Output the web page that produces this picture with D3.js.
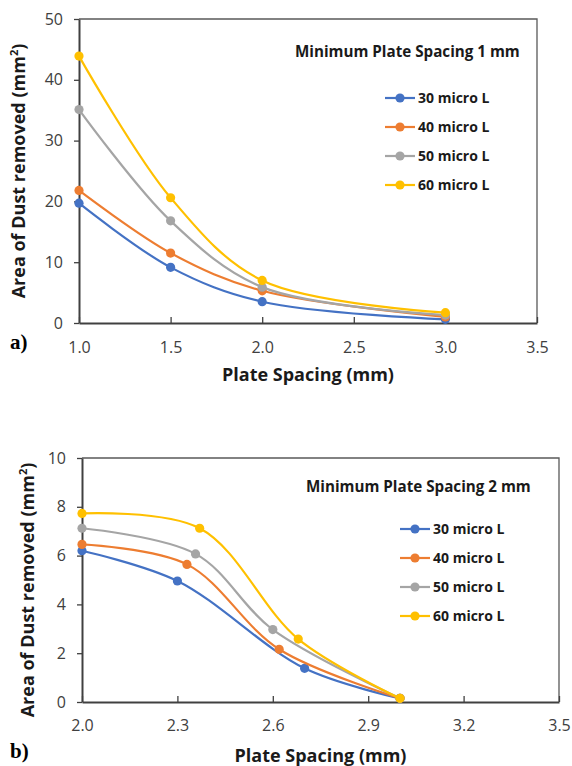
<!DOCTYPE html>
<html><head><meta charset="utf-8">
<script src="https://cdn.jsdelivr.net/npm/d3@7"></script>
<style>
body{margin:0;background:#fff;}
svg{display:block;}
</style></head><body>
<svg id="c" width="572" height="766"></svg>
<script>
// ---- data ----
const seriesNames = ["30 micro L", "40 micro L", "50 micro L", "60 micro L"];
const seriesColors = ["#4472C4", "#ED7D31", "#A5A5A5", "#FFC000"];

// Chart a: Minimum Plate Spacing 1 mm
const aX = [1.0, 1.5, 2.0, 3.0];
const a30 = [19.7, 9.15, 3.5, 0.6];
const a40 = [21.8, 11.5, 5.3, 1.0];
const a50 = [35.1, 16.8, 5.9, 1.3];
const a60 = [43.9, 20.6, 7.0, 1.7];
const aXTicks = [1.0, 1.5, 2.0, 2.5, 3.0, 3.5];
const aYTicks = [0, 10, 20, 30, 40, 50];

// Chart b: Minimum Plate Spacing 2 mm
const b30x = [2.0, 2.30, 2.70, 3.0];
const b30y = [6.2, 4.96, 1.38, 0.15];
const b40x = [2.0, 2.33, 2.62, 3.0];
const b40y = [6.46, 5.64, 2.16, 0.15];
const b50x = [2.0, 2.357, 2.60, 3.0];
const b50y = [7.12, 6.07, 2.97, 0.15];
const b60x = [2.0, 2.37, 2.68, 3.0];
const b60y = [7.73, 7.12, 2.58, 0.15];
const bXTicks = [2.0, 2.3, 2.6, 2.9, 3.2, 3.5];
const bYTicks = [0, 2, 4, 6, 8, 10];

const svg = d3.select("#c");
const FONT = "'Open Sans', 'DejaVu Sans', sans-serif";

function drawChart(cfg) {
  const g = svg.append("g");
  const x = d3.scaleLinear().domain(cfg.xDomain).range([cfg.left, cfg.right]);
  const y = d3.scaleLinear().domain(cfg.yDomain).range([cfg.bottom, cfg.top]);

  // frame (top & right)
  g.append("path")
    .attr("d", `M${cfg.left},${cfg.top}H${cfg.right}V${cfg.bottom}`)
    .attr("fill", "none").attr("stroke", "#595959").attr("stroke-width", 1.3);

  // x axis (ticks inward)
  const xa = g.append("g").attr("transform", `translate(0,${cfg.bottom})`)
    .call(d3.axisTop(x).tickValues(cfg.xTicks).tickSize(6).tickSizeOuter(0).tickFormat(d3.format(".1f")));
  xa.select(".domain").attr("stroke", "#404040").attr("stroke-width", 2);
  xa.selectAll(".tick line").attr("stroke", "#404040").attr("stroke-width", 1.3);
  xa.selectAll(".tick text").attr("y", cfg.xLabelDy).attr("dy", 0)
    .attr("font-family", FONT).attr("font-size", 16).attr("fill", "#404040");

  // y axis (ticks outward)
  const ya = g.append("g").attr("transform", `translate(${cfg.left},0)`)
    .call(d3.axisLeft(y).tickValues(cfg.yTicks).tickSize(5).tickSizeOuter(0).tickPadding(11));
  ya.select(".domain").attr("stroke", "#404040").attr("stroke-width", 2);
  ya.selectAll(".tick line").attr("stroke", "#404040").attr("stroke-width", 1.3);
  ya.selectAll(".tick text").attr("font-family", FONT).attr("font-size", 16).attr("fill", "#404040");

  // lines
  const line = d3.line().x(d => x(d[0])).y(d => y(d[1])).curve(d3.curveCatmullRom.alpha(0.5));
  cfg.series.forEach((s, i) => {
    const pts = s.xs.map((xv, j) => [xv, s.ys[j]]);
    g.append("path").datum(pts).attr("d", line)
      .attr("fill", "none").attr("stroke", seriesColors[i]).attr("stroke-width", 2.2);
    g.selectAll(null).data(pts).enter().append("circle")
      .attr("cx", d => x(d[0])).attr("cy", d => y(d[1])).attr("r", 4.6)
      .attr("fill", seriesColors[i]);
  });

  // legend
  g.append("text").attr("x", cfg.legTitleX).attr("y", cfg.legTitleY)
    .attr("font-family", FONT).attr("font-weight", 700).attr("font-size", 15.2)
    .attr("fill", "#1a1a1a").text(cfg.legTitle);
  seriesNames.forEach((n, i) => {
    const yy = cfg.legY0 + i * 29;
    g.append("line").attr("x1", cfg.legX).attr("x2", cfg.legX + 30)
      .attr("y1", yy).attr("y2", yy).attr("stroke", seriesColors[i]).attr("stroke-width", 2.2);
    g.append("circle").attr("cx", cfg.legX + 15).attr("cy", yy).attr("r", 4.6).attr("fill", seriesColors[i]);
    g.append("text").attr("x", cfg.legX + 33).attr("y", yy + 5)
      .attr("font-family", FONT).attr("font-weight", 700).attr("font-size", 14)
      .attr("fill", "#1a1a1a").text(n);
  });

  // axis titles
  g.append("text").attr("x", (cfg.left + cfg.right) / 2).attr("y", cfg.xTitleY)
    .attr("text-anchor", "middle").attr("font-family", FONT).attr("font-weight", 700)
    .attr("font-size", 18).attr("fill", "#1a1a1a").text("Plate Spacing (mm)");
  const yt = g.append("text")
    .attr("transform", `translate(${cfg.yTitleX},${cfg.yTitleCY}) rotate(-90)`)
    .attr("text-anchor", "middle").attr("font-family", FONT).attr("font-weight", 700)
    .attr("font-size", 18).attr("fill", "#1a1a1a");
  yt.append("tspan").text("Area of Dust removed (mm");
  yt.append("tspan").attr("font-size", 11).attr("dy", -7).text("2");
  yt.append("tspan").attr("dy", 7).text(")");

  // panel label
  g.append("text").attr("x", 10).attr("y", cfg.panelY)
    .attr("font-family", "'Liberation Serif', 'Times New Roman', serif").attr("font-weight", 700)
    .attr("font-size", 21).attr("fill", "#000").text(cfg.panel);
}

drawChart({
  left: 79, right: 537, top: 19, bottom: 323,
  xDomain: [1.0, 3.5], yDomain: [0, 50], xTicks: aXTicks, yTicks: aYTicks,
  xLabelDy: 30,
  series: [
    {xs: aX, ys: a30}, {xs: aX, ys: a40}, {xs: aX, ys: a50}, {xs: aX, ys: a60}
  ],
  legTitle: "Minimum Plate Spacing 1 mm", legTitleX: 295, legTitleY: 57,
  legX: 385, legY0: 98,
  xTitleY: 381, yTitleX: 25, yTitleCY: 171,
  panel: "a)", panelY: 349
});

drawChart({
  left: 82, right: 559, top: 458, bottom: 702,
  xDomain: [2.0, 3.5], yDomain: [0, 10], xTicks: bXTicks, yTicks: bYTicks,
  xLabelDy: 29,
  series: [
    {xs: b30x, ys: b30y}, {xs: b40x, ys: b40y}, {xs: b50x, ys: b50y}, {xs: b60x, ys: b60y}
  ],
  legTitle: "Minimum Plate Spacing 2 mm", legTitleX: 306, legTitleY: 492,
  legX: 400, legY0: 529,
  xTitleY: 762, yTitleX: 34, yTitleCY: 590,
  panel: "b)", panelY: 758
});
</script>
</body></html>
